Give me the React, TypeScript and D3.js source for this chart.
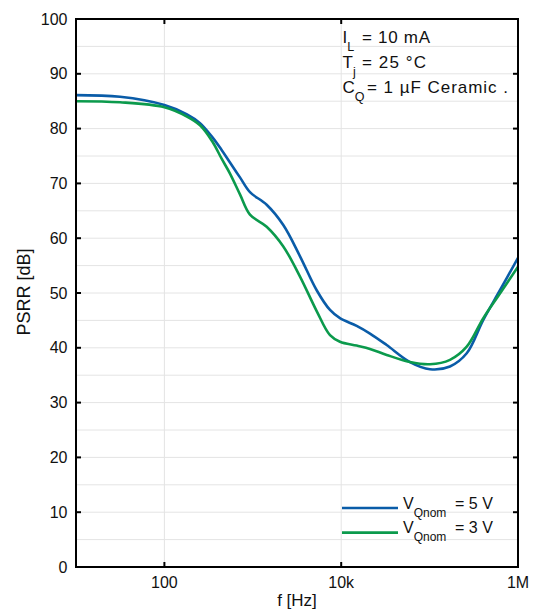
import React from "react";
import * as d3 from "d3";

const freqs = [10, 31.5, 100, 180, 253, 350, 444, 552, 716, 929, 1435, 2213, 3420, 5280, 7470, 9680, 14960, 21170, 32700, 60000, 101000, 170000, 263000, 405000, 625000, 1000000];
const psrr5V = [86.1, 85.8, 84.3, 82.6, 81.0, 78.4, 76.1, 73.8, 71.1, 68.4, 66.1, 62.4, 56.7, 50.5, 46.9, 45.4, 44.0, 42.6, 40.5, 37.4, 36.1, 36.6, 39.0, 45.1, 50.5, 56.4];
const psrr3V = [85.0, 84.8, 83.9, 82.2, 80.6, 77.6, 74.5, 71.8, 68.0, 64.3, 62.1, 58.5, 53.0, 46.7, 42.3, 41.1, 40.4, 39.8, 38.7, 37.4, 37.0, 37.8, 40.2, 45.4, 49.9, 54.8];
const xTickValues = [100, 10000, 1000000];
const xTickLabels = ["100", "10k", "1M"];
const yTickValues = [0, 10, 20, 30, 40, 50, 60, 70, 80, 90, 100];
const yGridValues = [5, 10, 15, 20, 25, 30, 35, 40, 45, 50, 55, 60, 65, 70, 75, 80, 85, 90, 95];
const xGridValues = [100, 10000];
const seriesNames = ["5 V", "3 V"];
const seriesColors = ["#0a5ca8", "#0b9a4c"];

const W = 534, H = 614;
const L = 76, R = 518, T = 19, B = 567;
const FONT = "'Liberation Sans', Arial, sans-serif";

export default function App() {
  const x = d3.scaleLog().domain([10, 1e6]).range([L, R]);
  const y = d3.scaleLinear().domain([0, 100]).range([B, T]);
  const line = d3.line<number>()
    .x((_, i) => x(freqs[i]))
    .y((v) => y(v))
    .curve(d3.curveCatmullRom.alpha(0.5));
  const series = [psrr5V, psrr3V];
  const tick = 5;
  return (
    <svg width={W} height={H} style={{ position: "absolute", left: 0, top: 0, background: "#fff" }} fontFamily={FONT}>
      <defs>
        <clipPath id="plot"><rect x={L} y={T} width={R - L} height={B - T} /></clipPath>
      </defs>
      <rect x={0} y={0} width={W} height={H} fill="#fff" />
      {yGridValues.map((v) => (
        <line key={"gy" + v} x1={L} x2={R} y1={y(v)} y2={y(v)} stroke="#e4e4e4" strokeWidth={1} />
      ))}
      {xGridValues.map((v) => (
        <line key={"gx" + v} x1={x(v)} x2={x(v)} y1={T} y2={B} stroke="#e4e4e4" strokeWidth={1} />
      ))}
      <g clipPath="url(#plot)">
        {series.map((s, i) => (
          <path key={i} d={line(s) || ""} fill="none" stroke={seriesColors[i]} strokeWidth={2.6} strokeLinejoin="round" />
        ))}
      </g>
      <rect x={L} y={T} width={R - L} height={B - T} fill="none" stroke="#000" strokeWidth={2} />
      {yTickValues.map((v) => (
        <g key={"ty" + v}>
          <line x1={L} x2={L + tick} y1={y(v)} y2={y(v)} stroke="#000" strokeWidth={2} />
          <line x1={R} x2={R - tick} y1={y(v)} y2={y(v)} stroke="#000" strokeWidth={2} />
          <text x={67.5} y={y(v)} dy="0.35em" textAnchor="end" fontSize={16} fill="#111">{v}</text>
        </g>
      ))}
      {xTickValues.map((v, i) => (
        <g key={"tx" + v}>
          <line x1={x(v)} x2={x(v)} y1={B} y2={B - tick} stroke="#000" strokeWidth={2} />
          <line x1={x(v)} x2={x(v)} y1={T} y2={T + tick} stroke="#000" strokeWidth={2} />
          <text x={x(v)} y={588} textAnchor="middle" fontSize={16} fill="#111">{xTickLabels[i]}</text>
        </g>
      ))}
      <text x={(L + R) / 2} y={605.5} textAnchor="middle" fontSize={17} fill="#111">f [Hz]</text>
      <text transform={`translate(29.5, ${(T + B) / 2 - 1}) rotate(-90)`} textAnchor="middle" fontSize={18} fill="#111">PSRR [dB]</text>

      <text fontSize={17} fill="#111">
        <tspan x={342.5} y={43.3}>I</tspan>
        <tspan dy={7.5} fontSize={12.5}>L</tspan>
        <tspan x={362} y={43.3} textLength={68} lengthAdjust="spacing">= 10 mA</tspan>
      </text>
      <text fontSize={17} fill="#111">
        <tspan x={342.5} y={68.3}>T</tspan>
        <tspan dy={7.5} fontSize={12.5}>j</tspan>
        <tspan x={362} y={68.3} textLength={64} lengthAdjust="spacing">= 25 °C</tspan>
      </text>
      <text fontSize={17} fill="#111">
        <tspan x={342.5} y={93.3}>C</tspan>
        <tspan dy={7.5} fontSize={12.5}>Q</tspan>
        <tspan x={367} y={93.3} textLength={141} lengthAdjust="spacing">= 1 µF Ceramic .</tspan>
      </text>

      {seriesNames.map((n, i) => {
        const ly = 508 + i * 24.6;
        return (
          <g key={"lg" + i}>
            <line x1={342} x2={398} y1={ly} y2={ly} stroke={seriesColors[i]} strokeWidth={2.6} />
            <text fontSize={16} fill="#111">
              <tspan x={403} y={ly + 0.5}>V</tspan>
              <tspan dy={8.3} fontSize={12}>Qnom</tspan>
              <tspan x={455} y={ly + 0.5}>= {n}</tspan>
            </text>
          </g>
        );
      })}
    </svg>
  );
}
